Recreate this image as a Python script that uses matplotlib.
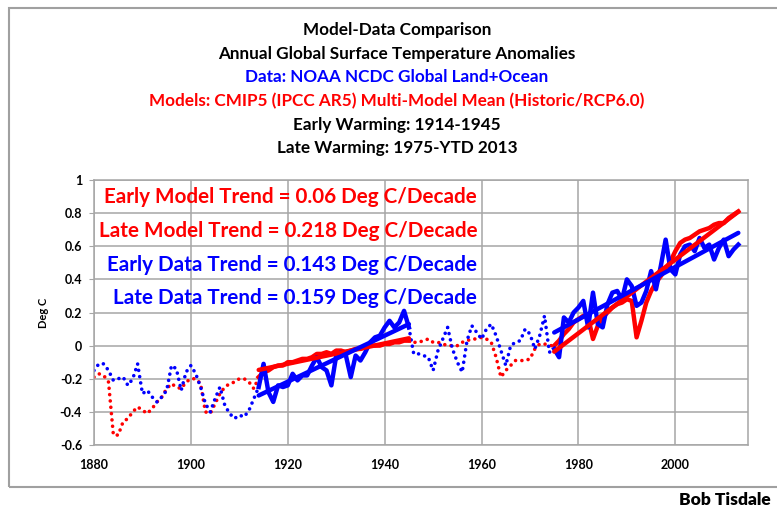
import numpy as np
import matplotlib
matplotlib.use("Agg")
import matplotlib.pyplot as plt
from matplotlib.patches import Rectangle

plt.rcParams['font.family'] = ['Lato', 'DejaVu Sans']

years = np.arange(1880, 2014)

# NOAA NCDC Global Land+Ocean, annual anomalies (deg C), 1880-2013
data = [
    -0.15, -0.11, -0.11, -0.15, -0.21, -0.20, -0.19, -0.24, -0.20, -0.11,   # 1880s
    -0.29, -0.27, -0.31, -0.34, -0.31, -0.27, -0.12, -0.14, -0.27, -0.16,   # 1890s
    -0.12, -0.17, -0.25, -0.35, -0.40, -0.32, -0.25, -0.36, -0.41, -0.44,   # 1900s
    -0.42, -0.43, -0.39, -0.32, -0.25, -0.11, -0.28, -0.34, -0.24, -0.25,   # 1910s
    -0.24, -0.17, -0.21, -0.18, -0.18, -0.12, -0.07, -0.13, -0.15, -0.24,   # 1920s
    -0.06, -0.04, -0.06, -0.19, -0.06, -0.09, -0.04, 0.02, 0.05, 0.06,      # 1930s
    0.11, 0.15, 0.11, 0.14, 0.21, 0.11, -0.05, -0.05, -0.06, -0.07,         # 1940s
    -0.15, -0.03, 0.04, 0.11, -0.02, -0.10, -0.16, 0.03, 0.12, 0.08,        # 1950s
    0.04, 0.10, 0.13, 0.06, -0.03, -0.12, 0.00, 0.02, 0.03, 0.10,           # 1960s
    0.07, -0.02, 0.06, 0.18, -0.04, -0.02, -0.07, 0.17, 0.14, 0.20,         # 1970s
    0.23, 0.27, 0.11, 0.32, 0.13, 0.11, 0.25, 0.32, 0.33, 0.28,             # 1980s
    0.40, 0.36, 0.24, 0.26, 0.33, 0.45, 0.34, 0.48, 0.64, 0.46,             # 1990s
    0.43, 0.55, 0.60, 0.61, 0.57, 0.65, 0.59, 0.61, 0.52, 0.59,             # 2000s
    0.64, 0.54, 0.58, 0.61,                                                 # 2010-2013
]

# CMIP5 multi-model mean (Historic/RCP6.0), 1880-2013
model = [
    -0.19, -0.17, -0.18, -0.22, -0.54, -0.54, -0.46, -0.44, -0.40, -0.37,
    -0.39, -0.41, -0.38, -0.34, -0.31, -0.26, -0.23, -0.25, -0.26, -0.22,
    -0.20, -0.20, -0.23, -0.40, -0.41, -0.35, -0.29, -0.25, -0.23, -0.22,
    -0.20, -0.20, -0.22, -0.26, -0.19, -0.16, -0.15, -0.13, -0.12, -0.12,
    -0.10, -0.10, -0.09, -0.08, -0.08, -0.07, -0.05, -0.05, -0.04, -0.05,
    -0.03, -0.03, -0.04, -0.03, -0.02, -0.02, -0.01, 0.00, 0.00, 0.00,
    0.01, 0.01, 0.02, 0.02, 0.03, 0.03, 0.02, 0.02, 0.03, 0.04,
    0.02, 0.02, 0.01, 0.00, 0.00, 0.00, 0.02, 0.03, 0.04, 0.04,
    0.05, 0.04, 0.02, -0.07, -0.19, -0.15, -0.12, -0.09, -0.09, -0.09,
    -0.08, -0.02, 0.01, 0.01, 0.00, 0.00, 0.03, 0.07, 0.10, 0.14,
    0.16, 0.18, 0.17, 0.04, 0.12, 0.17, 0.20, 0.23, 0.25, 0.26,
    0.28, 0.27, 0.05, 0.15, 0.26, 0.33, 0.38, 0.42, 0.46, 0.51,
    0.57, 0.62, 0.64, 0.65, 0.67, 0.69, 0.70, 0.71, 0.73, 0.74,
    0.74, 0.77, 0.79, 0.81,
]

early = (1914, 1945)
late = (1975, 2013)

trend_labels = [
    "Early Model Trend = 0.06 Deg C/Decade",
    "Late Model Trend = 0.218 Deg C/Decade",
    "Early Data Trend = 0.143 Deg C/Decade",
    "Late Data Trend = 0.159 Deg C/Decade",
]
title_lines = [
    ("Model-Data Comparison", "black"),
    ("Annual Global Surface Temperature Anomalies", "black"),
    ("Data: NOAA NCDC Global Land+Ocean", "#0000ff"),
    ("Models: CMIP5 (IPCC AR5) Multi-Model Mean (Historic/RCP6.0)", "#ff0000"),
    ("Early Warming: 1914-1945", "black"),
    ("Late Warming: 1975-YTD 2013", "black"),
]

RED = "#ff0000"
BLUE = "#0000ff"
GRID = "#a6a6a6"

data = np.array(data)
model = np.array(model)

fig = plt.figure(figsize=(7.77, 5.11), dpi=100)
ax = fig.add_axes([94 / 777, 66 / 511, 654 / 777, 265 / 511])

# outer chart border
fig.patches.append(Rectangle((9 / 777, 24 / 511), 1.0, 479 / 511, transform=fig.transFigure,
                             fill=False, edgecolor="#a0a0a0", lw=1.5))


def in_period(p):
    return (years >= p[0]) & (years <= p[1])


outside = ~(in_period((early[0] + 1, early[1] - 1)) | in_period((late[0] + 1, late[1])))
dot_style = dict(lw=2.6, linestyle=(0, (0.01, 1.75)), dash_capstyle="round")

ax.plot(years, np.where(outside, model, np.nan), color=RED, **dot_style)
ax.plot(years, np.where(outside, data, np.nan), color=BLUE, **dot_style)

for period in (early, late):
    m = in_period(period)
    ax.plot(years[m], model[m], color=RED, lw=3.2, solid_joinstyle="round")
    ax.plot(years[m], data[m], color=BLUE, lw=3.2, solid_joinstyle="round")
    for series, col in ((model, RED), (data, BLUE)):
        k, b = np.polyfit(years[m], series[m], 1)
        ax.plot(years[m], k * years[m] + b, color=col, lw=3.2, solid_capstyle="round")

ax.set_xlim(1880, 2015)
ax.set_ylim(-0.6, 1.0)
ax.set_xticks(np.arange(1880, 2001, 20))
yt = np.round(np.arange(-0.6, 1.01, 0.2), 1)
ax.set_yticks(yt)
ax.set_yticklabels(["0" if v == 0 else ("1" if v == 1 else f"{v:g}") for v in yt])
ax.grid(True, color=GRID, lw=1.1)
ax.set_axisbelow(True)
for s in ax.spines.values():
    s.set_color(GRID)
    s.set_linewidth(1.1)
ax.tick_params(axis="y", length=3.6, color=GRID, pad=5, labelsize=9)
ax.tick_params(axis="x", length=0, pad=10, labelsize=9)
for lbl in ax.get_xticklabels() + ax.get_yticklabels():
    lbl.set_fontweight("bold")
ax.set_ylabel("Deg C", fontsize=8, fontweight="bold", labelpad=8)

label_y = [0.936, 0.8075, 0.679, 0.555]
label_c = [RED, RED, BLUE, BLUE]
for txt, y, c in zip(trend_labels, label_y, label_c):
    ax.text(0.586, y, txt, transform=ax.transAxes, ha="right", va="center",
            color=c, fontsize=14.9, fontweight="bold")

title_y = [30, 54, 77, 101, 125, 148]
for (txt, c), y in zip(title_lines, title_y):
    fig.text(397 / 777, 1 - y / 511, txt, ha="center", va="center", color=c,
             fontsize=12.3, fontweight="bold")

fig.text(771 / 777, 1 - 500 / 511, "Bob Tisdale", ha="right", va="center",
         fontsize=12.5, fontweight="heavy")

fig.savefig("out.png", dpi=100)
